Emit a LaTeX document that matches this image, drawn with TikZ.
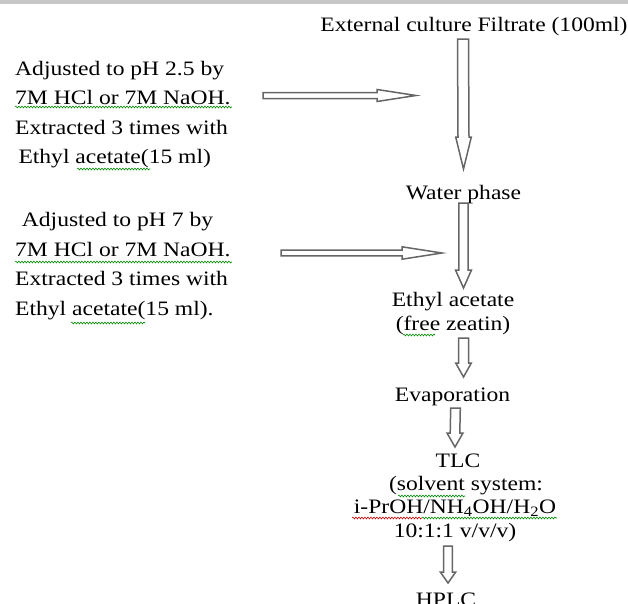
\documentclass[tikz,border=0pt]{standalone}
\usepackage{fontspec}
\setmainfont{Liberation Serif}[FakeStretch=1.15]
\usetikzlibrary{calc,decorations.pathmorphing}

% block arrows: #1 start, #2 tip, #3 half shaft, #4 half head, #5 head length
\newcommand{\vblock}[5]{%
  \draw[blockarrow] ($(#1)+(-#3,0)$) -- ($(#2)+(-#3,-#5)$) -- ($(#2)+(-#4,-#5)$) -- (#2)
    -- ($(#2)+(#4,-#5)$) -- ($(#2)+(#3,-#5)$) -- ($(#1)+(#3,0)$) -- cycle;}
\newcommand{\hblock}[5]{%
  \draw[blockarrow] ($(#1)+(0,-#3)$) -- ($(#2)+(-#5,-#3)$) -- ($(#2)+(-#5,-#4)$) -- (#2)
    -- ($(#2)+(-#5,#4)$) -- ($(#2)+(-#5,#3)$) -- ($(#1)+(0,#3)$) -- cycle;}

\begin{document}
\begin{tikzpicture}[x=1pt,y=-1pt,
		txt/.style={inner sep=0pt,font=\fontsize{20.5}{29.5}\selectfont},
		stage/.style={txt,anchor=base,align=center,font=\fontsize{20.5}{23.3}\selectfont},
		blockarrow/.style={draw=black!60,line width=1.5pt,fill=white,line join=miter},
		squig/.style={draw=green!55!black,line width=0.6pt,decorate,
			decoration={snake,amplitude=0.9pt,segment length=3pt}}]
	\useasboundingbox (0,0) rectangle (628,603);
	\fill[black!22] (0,0) rectangle (628,4);

	% left side (base = last line)
	\node[txt,anchor=base west,align=left]	(ph25)	at (15,163.5)	{Adjusted to pH 2.5 by\\7M HCl or 7M NaOH.\\Extracted 3 times with\\\hspace{3.3pt}Ethyl acetate(15 ml)};
	\node[txt,anchor=base west,align=left]	(ph7)	at (15,315)	{\hspace{6.7pt}Adjusted to pH 7 by\\7M HCl or 7M NaOH.\\Extracted 3 times with\\Ethyl acetate(15 ml).};

	% main flow
	\node[stage]	(ext)	at (474,31)		{External culture Filtrate (100ml)};
	\node[stage]	(water)	at (463.5,199)	{Water phase};
	\node[stage]	(ethyl)	at (453,330)	{Ethyl acetate\\(free zeatin)};
	\node[stage]	(evap)	at (452.5,401)	{Evaporation};
	\node[stage]	(tlc)	at (455,537)	{\hspace{6pt}TLC\\\hspace{22pt}(solvent system:\\i-PrOH/NH\textsubscript{4}OH/H\textsubscript{2}O\\10:1:1 v/v/v)};
	\node[stage]	(hplc)	at (446,606)	{HPLC};

	\coordinate (a1s) at ($(ext.base)+(-11,8)$);
	\coordinate (a1t) at ($(water.base)+(0,-30)$);
	\coordinate (a2s) at ($(water.base)+(0,4)$);
	\coordinate (a2t) at ($(ethyl.base)+(10.5,-42)$);
	\coordinate (a3s) at ($(ethyl.base)+(10.5,8)$);
	\coordinate (a3t) at ($(evap.base)+(11,-24)$);
	\coordinate (a4s) at ($(evap.base)+(3,7)$);
	\coordinate (a4t) at ($(tlc.base)+(0,-90)$);
	\coordinate (a5s) at ($(tlc.base)+(-7,9)$);
	\coordinate (a5t) at ($(hplc.base)+(2,-23)$);
	\coordinate (h1s) at ($(ph25.base west)+(248,-68)$);
	\coordinate (h1t) at ($(ph25.base west)+(401,-68)$);
	\coordinate (h2s) at ($(ph7.base west)+(266,-62)$);
	\coordinate (h2t) at ($(ph7.base west)+(427,-62)$);

	\vblock{a1s}{a1t}{5.5}{7.8}{32}
	\vblock{a2s}{a2t}{4.7}{8}{18}
	\vblock{a3s}{a3t}{5}{7.8}{14}
	\vblock{a4s}{a4t}{4.8}{8}{14}
	\vblock{a5s}{a5t}{4.3}{7.7}{11}
	\hblock{h1s}{h1t}{3}{6}{39}
	\hblock{h2s}{h2t}{2.8}{6.2}{40}

	% spelling marks
	\draw[squig] (15,107) -- (232,107);
	\draw[squig] (77,169) -- (150,169);
	\draw[squig] (15,262) -- (232,262);
	\draw[squig] (71,323) -- (145,323);
	\draw[squig] (403,335) -- (435,335);
	\draw[squig] (398,496) -- (465,496);
	\draw[squig,draw=red!80!black] (352,518) -- (422,518);
	\draw[squig] (422,518) -- (557,518);
\end{tikzpicture}
\end{document}
